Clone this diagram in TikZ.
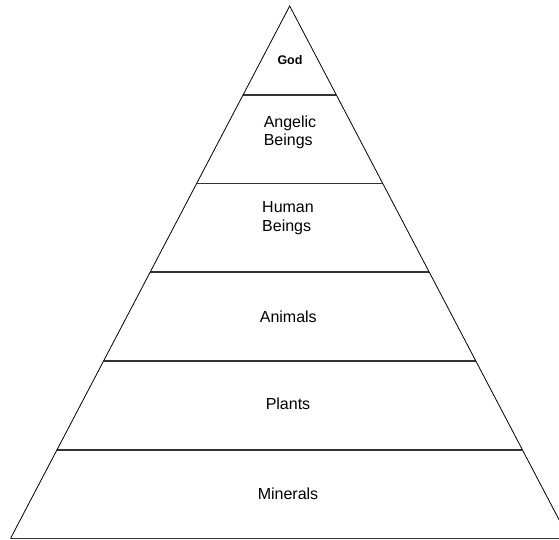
\documentclass[tikz,border=0pt]{standalone}
\usepackage{fontspec}
\setmainfont{Liberation Sans}
\usetikzlibrary{calc}
\begin{document}
\begin{tikzpicture}[x=1pt,y=1pt,
  side/.style={draw=black,line width=0.8pt},
  divider/.style={draw=black!80,line width=1.6pt},
  lbl/.style={font=\fontsize{16}{18.5}\selectfont,align=left,inner sep=0pt},
  godlbl/.style={font=\fontsize{12.5}{14}\selectfont\bfseries,inner sep=0pt}]
\useasboundingbox (0,0) rectangle (559,-540);
\clip (0,0) rectangle (559,-540);
\coordinate (apex) at (289.7,-6);
\coordinate (L) at (10.5,-538.5);
\coordinate (R) at (568.9,-538.5);
\foreach \i in {1,...,5}{
  \draw[divider] ($(apex)!\i/6!(L)$) -- ($(apex)!\i/6!(R)$);
}
\draw[draw=black!80,line width=1.2pt] (L) -- (R);
\draw[side] (L) -- (apex) -- (R);
\node[godlbl] (god) at (290,-60) {God};
\node[lbl] (angelic) at (290,-132.5) {Angelic\\Beings};
\node[lbl] (human) at (288,-218) {Human\\Beings};
\node[lbl] (animals) at (288.3,-317) {Animals};
\node[lbl] (plants) at (288,-404) {Plants};
\node[lbl] (minerals) at (288,-494) {Minerals};
\end{tikzpicture}
\end{document}
